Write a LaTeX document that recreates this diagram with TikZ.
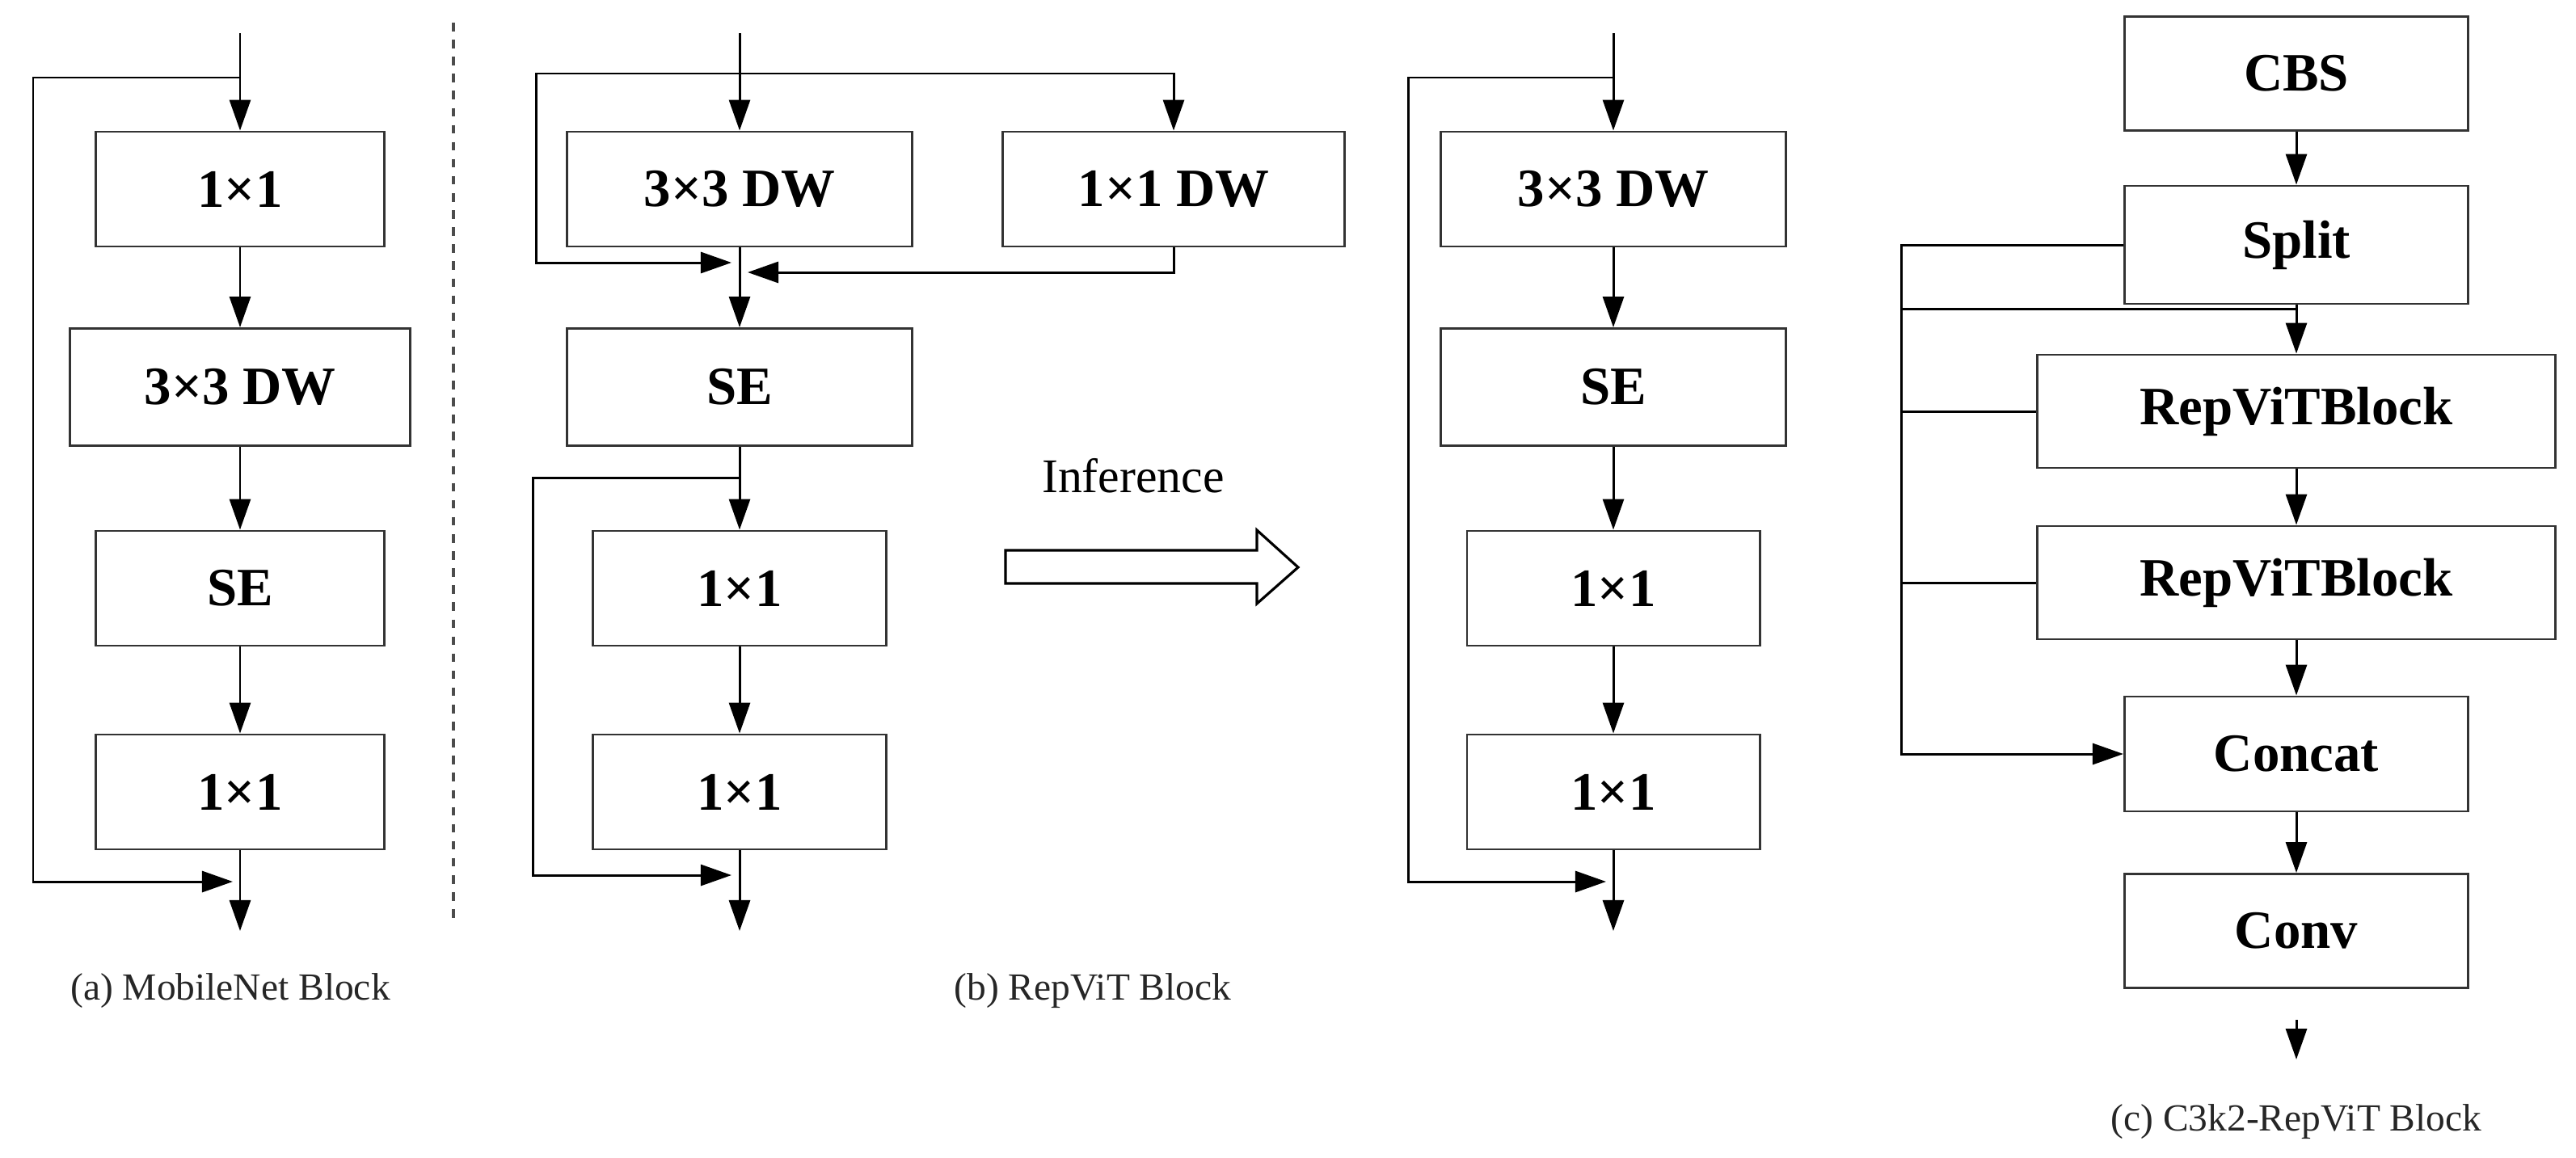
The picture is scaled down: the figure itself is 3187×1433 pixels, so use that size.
\documentclass[tikz,border=0pt]{standalone}
\usepackage{fontspec}
\setmainfont{Liberation Serif}
\usetikzlibrary{arrows.meta}
\begin{document}
\begin{tikzpicture}[x=0.01cm,y=-0.01cm,
  line width=0.85pt,
  box/.style={draw=black!80, line width=0.8pt, inner sep=0pt, font=\fontsize{19}{22}\selectfont\bfseries},
  arr/.style={-{Triangle[length=0.38cm,width=0.26cm]}},
  captxt/.style={font=\fontsize{13.5}{16}\selectfont, text=black!85}]
\useasboundingbox (0,0) rectangle (3187,1433);
% (a)
\node[box,minimum width=3.56cm,minimum height=1.42cm] (a1) at (297,234) {1×1};
\node[box,minimum width=4.21cm,minimum height=1.45cm] (a2) at (297,479) {3×3 DW};
\node[box,minimum width=3.56cm,minimum height=1.42cm] (a3) at (297,728) {SE};
\node[box,minimum width=3.56cm,minimum height=1.42cm] (a4) at (297,980) {1×1};
\coordinate (at) at (297,41); \coordinate (as) at (297,96);
\coordinate (ae) at (297,1152); \coordinate (ask) at (288,1091);
\draw[arr] (at) -- (a1);
\draw[arr] (a1) -- (a2); \draw[arr] (a2) -- (a3); \draw[arr] (a3) -- (a4);
\draw[arr] (a4) -- (ae);
\draw[arr] (as) -- (41,96) |- (ask);
\draw[dashed, line width=0.9pt, black!70] (561,28) -- (561,1144);
\node[captxt] (capa) at (285,1226) {(a) MobileNet Block};
% (b)
\node[box,minimum width=4.27cm,minimum height=1.42cm] (b1) at (915,234) {3×3 DW};
\node[box,minimum width=4.23cm,minimum height=1.42cm] (b1r) at (1452,234) {1×1 DW};
\node[box,minimum width=4.27cm,minimum height=1.45cm] (b2) at (915,479) {SE};
\node[box,minimum width=3.62cm,minimum height=1.42cm] (b3) at (915,728) {1×1};
\node[box,minimum width=3.62cm,minimum height=1.42cm] (b4) at (915,980) {1×1};
\coordinate (bt) at (915,41); \coordinate (bj) at (915,91);
\coordinate (bl) at (905,325); \coordinate (br) at (925,337);
\coordinate (bs) at (915,591); \coordinate (bsk) at (905,1083);
\coordinate (be) at (915,1152);
\draw[arr] (bt) -- (b1);
\draw[arr] (bj) -| (b1r);
\draw[arr] (bj) -- (663,91) |- (bl);
\draw[arr] (b1r.south) |- (br);
\draw[arr] (b1) -- (b2); \draw[arr] (b2) -- (b3); \draw[arr] (b3) -- (b4);
\draw[arr] (b4) -- (be);
\draw[arr] (bs) -- (659,591) |- (bsk);
\node[font=\fontsize{17}{20}\selectfont] (inf) at (1402,589) {Inference};
\draw[line width=0.9pt] (1244,681) -- (1555,681) -- (1555,656) -- (1606,702) -- (1555,747) -- (1555,722) -- (1244,722) -- cycle;
\node[captxt] (capb) at (1352,1226) {(b) RepViT Block};
% (b') inference
\node[box,minimum width=4.27cm,minimum height=1.42cm] (c1) at (1996,234) {3×3 DW};
\node[box,minimum width=4.27cm,minimum height=1.45cm] (c2) at (1996,479) {SE};
\node[box,minimum width=3.62cm,minimum height=1.42cm] (c3) at (1996,728) {1×1};
\node[box,minimum width=3.62cm,minimum height=1.42cm] (c4) at (1996,980) {1×1};
\coordinate (ct) at (1996,41); \coordinate (cs) at (1996,96);
\coordinate (ce) at (1996,1152); \coordinate (csk) at (1987,1091);
\draw[arr] (ct) -- (c1);
\draw[arr] (c1) -- (c2); \draw[arr] (c2) -- (c3); \draw[arr] (c3) -- (c4);
\draw[arr] (c4) -- (ce);
\draw[arr] (cs) -- (1742,96) |- (csk);
% (c)
\node[box,minimum width=4.25cm,minimum height=1.41cm] (d1) at (2841,91) {CBS};
\node[box,minimum width=4.25cm,minimum height=1.46cm] (d2) at (2841,303) {Split};
\node[box,minimum width=6.41cm,minimum height=1.40cm] (d3) at (2841,509) {RepViTBlock};
\node[box,minimum width=6.41cm,minimum height=1.40cm] (d4) at (2841,721) {RepViTBlock};
\node[box,minimum width=4.25cm,minimum height=1.42cm] (d5) at (2841,933) {Concat};
\node[box,minimum width=4.25cm,minimum height=1.41cm] (d6) at (2841,1152) {Conv};
\coordinate (dj) at (2352,382); \coordinate (dm) at (2841,382);
\coordinate (dt) at (2841,1262); \coordinate (de) at (2841,1311);
\draw[arr] (d1) -- (d2);
\draw[arr] (d2) -- (d3);
\draw (dj) -- (dm);
\draw[arr] (d2.west) -- (2352,303) |- (d5.west);
\draw (d3.west) -- (2352,509);
\draw (d4.west) -- (2352,721);
\draw[arr] (d3) -- (d4); \draw[arr] (d4) -- (d5); \draw[arr] (d5) -- (d6);
\draw[arr] (dt) -- (de);
\node[captxt] (capc) at (2841,1388) {(c) C3k2-RepViT Block};
\end{tikzpicture}
\end{document}
